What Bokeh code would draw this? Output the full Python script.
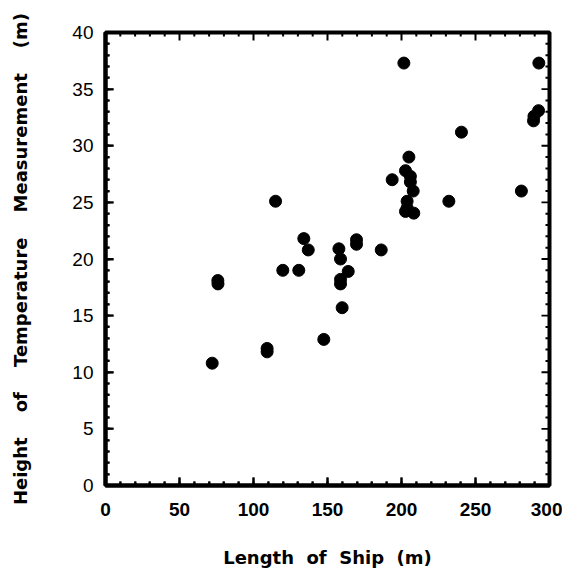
from bokeh.plotting import figure
from bokeh.models import LinearAxis, SingleIntervalTicker, Range1d
from bokeh.embed import file_html
from bokeh.resources import INLINE

# Data
ship_length = [201.6, 292.8, 292.6, 289.5, 289.2, 240.5, 205.0, 202.7, 206.0, 193.7,
               206.0, 207.9, 281.0, 232.0, 114.9, 203.8, 203.8, 202.7, 208.3, 134.0,
               137.0, 169.6, 169.6, 157.7, 186.3, 158.8, 119.8, 130.6, 164.0, 75.9,
               76.0, 158.8, 158.8, 159.9, 147.5, 109.2, 109.2, 72.1]
measure_height = [37.3, 37.3, 33.1, 32.6, 32.2, 31.2, 29.0, 27.8, 27.3, 27.0,
                  26.8, 26.0, 26.0, 25.1, 25.1, 25.1, 24.5, 24.2, 24.05, 21.8,
                  20.8, 21.7, 21.3, 20.9, 20.8, 20.0, 19.0, 19.0, 18.9, 18.1,
                  17.8, 18.2, 17.8, 15.7, 12.9, 12.1, 11.8, 10.8]

# Tick values
x_major_ticks = [0, 50, 100, 150, 200, 250, 300]
x_minor_ticks = [10, 20, 30, 40, 60, 70, 80, 90, 110, 120, 130, 140, 160, 170, 180, 190,
                 210, 220, 230, 240, 260, 270, 280, 290]
y_major_ticks = [0, 5, 10, 15, 20, 25, 30, 35, 40]
y_minor_ticks = [v for v in range(0, 41) if v % 5 != 0]

x_title = "\u00a0\u00a0".join(["Length", "of", "Ship", "(m)"])
y_title = "\u00a0\u00a0\u00a0\u00a0".join(["Height", "of", "Temperature", "Measurement", "(m)"])

X0, X1, Y0, Y1 = 0, 300, 0, 40
W, H = 562, 570
BL, BT, BR, BB = 105, 32, 13, 82
FW, FH = W - BL - BR, H - BT - BB   # frame size in px
MAJ_PX, MIN_PX, TW_PX = 8, 4, 2     # inward tick lengths and thickness in px

p = figure(width=W, height=H, output_backend="svg", toolbar_location=None,
           x_range=Range1d(X0, X1), y_range=Range1d(Y0, Y1),
           x_axis_type=None, y_axis_type=None)
p.min_border_left = BL
p.min_border_top = BT
p.min_border_right = BR
p.min_border_bottom = BB
p.outline_line_color = "black"
p.outline_line_width = 4

def make_axis(is_x, title):
    ax = LinearAxis(ticker=SingleIntervalTicker(interval=50 if is_x else 5, num_minor_ticks=5))
    ax.axis_line_width = 4
    ax.axis_line_color = "black"
    ax.major_tick_in = MAJ_PX
    ax.major_tick_out = 0
    ax.minor_tick_in = MIN_PX
    ax.minor_tick_out = 0
    ax.major_tick_line_width = TW_PX
    ax.minor_tick_line_width = TW_PX
    ax.major_tick_line_color = "black"
    ax.minor_tick_line_color = "black"
    ax.major_label_text_font = "Liberation Sans"
    ax.major_label_text_font_size = "19px"
    ax.major_label_text_color = "black"
    ax.major_label_text_font_style = "bold" if is_x else "normal"
    ax.major_label_standoff = 17 if is_x else 12
    ax.axis_label = title
    ax.axis_label_text_font = "DejaVu Sans"
    ax.axis_label_text_font_style = "bold"
    ax.axis_label_text_font_size = "18px"
    ax.axis_label_text_color = "black"
    ax.axis_label_standoff = 28 if is_x else 38
    return ax

p.add_layout(make_axis(True, x_title), "below")
p.add_layout(make_axis(False, y_title), "left")

p.scatter(ship_length, measure_height, size=12, color="black", marker="circle")

# Inward tick marks on all four sides (mirrored), drawn as small filled bars
ypx = (Y1 - Y0) / FH   # data units per px (y)
xpx = (X1 - X0) / FW   # data units per px (x)
hx = TW_PX * xpx / 2
hy = TW_PX * ypx / 2
tick_l, tick_r, tick_b, tick_t = [], [], [], []
for ticks, L in ((x_major_ticks, MAJ_PX), (x_minor_ticks, MIN_PX)):
    for t in ticks:
        for base, sign in ((Y0, 1), (Y1, -1)):
            tick_l.append(t - hx)
            tick_r.append(t + hx)
            tick_b.append(min(base, base + sign * L * ypx))
            tick_t.append(max(base, base + sign * L * ypx))
for ticks, L in ((y_major_ticks, MAJ_PX), (y_minor_ticks, MIN_PX)):
    for t in ticks:
        for base, sign in ((X0, 1), (X1, -1)):
            tick_l.append(min(base, base + sign * L * xpx))
            tick_r.append(max(base, base + sign * L * xpx))
            tick_b.append(t - hy)
            tick_t.append(t + hy)
p.quad(left=tick_l, right=tick_r, bottom=tick_b, top=tick_t,
       fill_color="black", line_color=None)

open("out.html", "w").write(file_html(p, INLINE))
